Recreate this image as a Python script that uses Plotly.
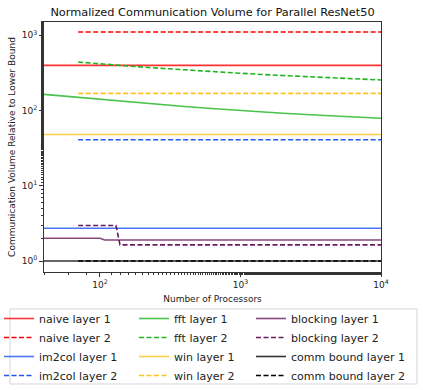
import math

import plotly.graph_objects as go

# processor counts (x) and normalized volumes (y)
p_full = [40, 10000]
p_half = [70, 10000]

naive_l1 = [398, 398]
naive_l2 = [1105, 1105]
im2col_l1 = [2.73, 2.73]
im2col_l2 = [41, 41]

p_fft1 = [40, 70, 100, 200, 400, 700, 1000, 2000, 4000, 10000]
fft_l1 = [164, 150, 141, 125, 113, 105, 100, 92, 86, 79]
p_fft2 = [70, 100, 200, 400, 600, 1000, 2000, 4000, 10000]
fft_l2 = [441, 418, 378, 348, 330, 313, 292, 274, 255]

win_l1 = [48, 48]
win_l2 = [169, 169]

p_block1 = [40, 100, 108, 10000]
blocking_l1 = [2.01, 2.01, 1.9, 1.9]
p_block2 = [70, 130, 139, 10000]
blocking_l2 = [2.96, 2.96, 1.64, 1.64]

comm_l1 = [1, 1]
comm_l2 = [1, 1]

x_ticks = [100, 1000, 10000]
x_tick_text = ["10<sup>2</sup>", "10<sup>3</sup>", "10<sup>4</sup>"]
y_ticks = [1, 10, 100, 1000]
y_tick_text = ["10<sup>0</sup>", "10<sup>1</sup>", "10<sup>2</sup>", "10<sup>3</sup>"]

FONT = "DejaVu Sans"

series = [
    # name, x, y, color, dash, legend
    ("naive layer 1", p_full, naive_l1, "#ff0000", "solid", "legend"),
    ("naive layer 2", p_half, naive_l2, "#ff0000", "dash", "legend"),
    ("im2col layer 1", p_full, im2col_l1, "#1f55f0", "solid", "legend"),
    ("im2col layer 2", p_half, im2col_l2, "#1f55f0", "dash", "legend"),
    ("fft layer 1", p_fft1, fft_l1, "#1fb51f", "solid", "legend2"),
    ("fft layer 2", p_fft2, fft_l2, "#1fb51f", "dash", "legend2"),
    ("win layer 1", p_full, win_l1, "#ffc21f", "solid", "legend2"),
    ("win layer 2", p_half, win_l2, "#ffc21f", "dash", "legend2"),
    ("blocking layer 1", p_block1, blocking_l1, "#681a5c", "solid", "legend3"),
    ("blocking layer 2", p_block2, blocking_l2, "#681a5c", "dash", "legend3"),
    ("comm bound layer 1", p_full, comm_l1, "#000000", "solid", "legend3"),
    ("comm bound layer 2", p_half, comm_l2, "#000000", "dash", "legend3"),
]

fig = go.Figure()
for name, xs, ys, color, dash, leg in series:
    fig.add_trace(go.Scatter(
        x=xs, y=ys, name=name, mode="lines",
        line=dict(color=color, width=1.6, dash="5px,2.5px" if dash == "dash" else "solid"),
        opacity=0.8 if dash == "solid" else 1.0,
        legend=leg,
    ))

L, R, T, B = 44, 42, 22, 118
W, H = 423, 390
pw = W - L - R
ph = H - T - B


def px_x(px):
    return (px - L) / pw


def px_y(py):
    return (H - B - py) / ph


leg_common = dict(
    yanchor="top", xanchor="left", y=px_y(304),
    bgcolor="rgba(0,0,0,0)", borderwidth=0,
    font=dict(family=FONT, size=11, color="#222"),
    tracegroupgap=0,
)

fig.update_layout(
    width=W, height=H,
    margin=dict(l=L, r=R, t=T, b=B, autoexpand=False),
    plot_bgcolor="white", paper_bgcolor="white",
    font=dict(family=FONT, size=9, color="#222"),
    title=dict(
        text="Normalized Communication Volume for Parallel ResNet50",
        x=px_x((L + W - R) / 2), xref="paper", xanchor="center",
        y=1 - 12 / H, yref="container", yanchor="middle",
        font=dict(family=FONT, size=11.3, color="#111"),
    ),
    xaxis=dict(
        type="log", range=[math.log10(40), 4], automargin=False,
        tickvals=x_ticks, ticktext=x_tick_text,
        ticks="outside", ticklen=4, tickcolor="#333",
        minor=dict(ticks="outside", ticklen=2, tickcolor="#333", showgrid=False),
        showline=True, linecolor="#333", linewidth=1, mirror=True,
        showgrid=False, zeroline=False,
        title=dict(text="Number of Processors", standoff=6, font=dict(size=9)),
        tickfont=dict(size=9),
    ),
    yaxis=dict(
        type="log", range=[-0.146, 3.177], automargin=False,
        tickvals=y_ticks, ticktext=y_tick_text,
        ticks="outside", ticklen=4, tickcolor="#333",
        minor=dict(ticks="outside", ticklen=2, tickcolor="#333", showgrid=False),
        showline=True, linecolor="#333", linewidth=1, mirror=True,
        showgrid=False, zeroline=False,
        title=dict(text="Communication Volume Relative to Lower Bound", standoff=4, font=dict(size=9)),
        tickfont=dict(size=9),
    ),
    legend=dict(x=px_x(-1), **leg_common),
    legend2=dict(x=px_x(134), **leg_common),
    legend3=dict(x=px_x(251), **leg_common),
    shapes=[dict(
        type="rect", xref="paper", yref="paper",
        x0=px_x(10), x1=px_x(417), y0=px_y(384), y1=px_y(309),
        line=dict(color="#d5d5d5", width=1), fillcolor="rgba(0,0,0,0)",
    )],
)

# the page body has a default 8px margin; drop it so the figure fills the window
fig.write_html(
    "out.html",
    config={"displayModeBar": False},
    post_script="document.body.style.margin='0';",
)
